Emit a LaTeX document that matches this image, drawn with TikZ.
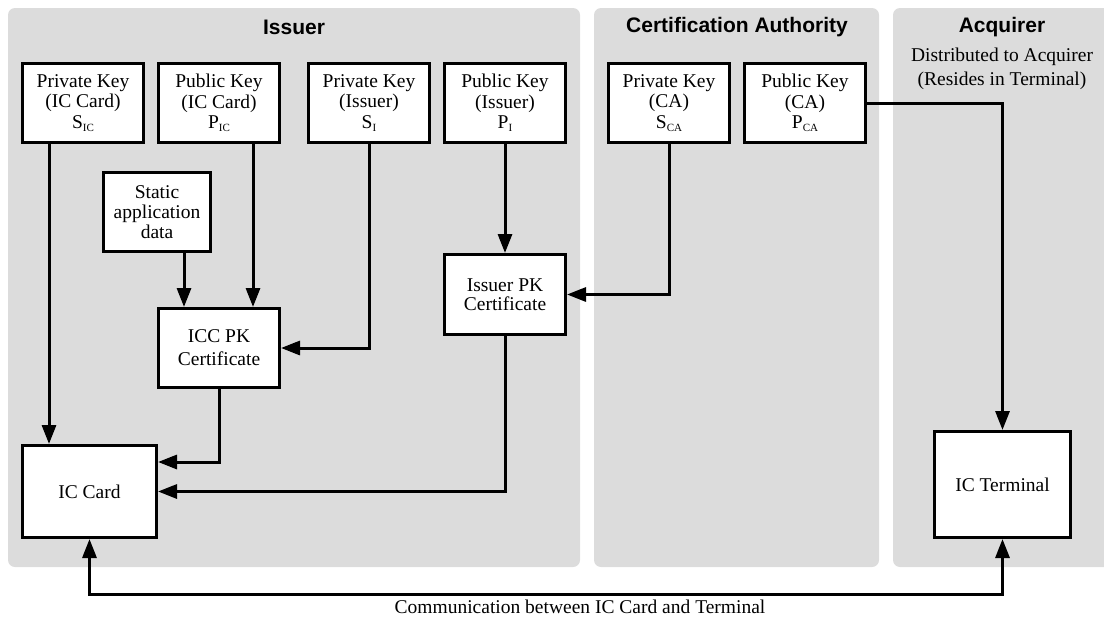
\documentclass[tikz,border=0pt]{standalone}
\usepackage{fontspec}
\setmainfont{Liberation Serif}
\newfontfamily\titlefont{Liberation Sans}
\usetikzlibrary{arrows.meta,calc}

\definecolor{panelgray}{RGB}{220,220,220}
\newcommand\lowsub[1]{\raisebox{-3pt}{\fontsize{11}{11}\selectfont #1}}
\newcommand\boxfont{\fontsize{19.5}{20.5}\selectfont}

\begin{document}
\begin{tikzpicture}[x=1pt,y=-1pt,
  panel/.style={fill=panelgray, draw=none, rounded corners=7pt},
  paneltitle/.style={font=\titlefont\bfseries\fontsize{21}{24}\selectfont, inner sep=0pt},
  note/.style={font=\fontsize{19.5}{24}\selectfont, align=center, inner sep=0pt},
  box/.style={draw, line width=3pt, fill=white, align=center, inner sep=0pt, font=\boxfont},
  keybox/.style={box, minimum width=121pt, minimum height=79pt},
  arr/.style={line width=3pt, -{Triangle[length=19pt,width=14pt]}},
  dblarr/.style={line width=3pt, {Triangle[length=19pt,width=14pt]}-{Triangle[length=19pt,width=14pt]}}
]
\clip (0,0) rectangle (1104,621);

% swimlane panels
\fill[panel] (8,8) rectangle (580,567);
\fill[panel] (594,8) rectangle (879,567);
\fill[panel] (893,8) rectangle (1130,567);

\node[paneltitle] (tissuer) at (294,27) {Issuer};
\node[paneltitle] (tca) at (737,27) {Certification Authority};
\node[paneltitle] (tacq) at (1002,27) {Acquirer};
\node[note] (acqnote) at (1002,69) {Distributed to Acquirer\\(Resides in Terminal)};

% key boxes
\node[keybox] (pkic) at (83,103) {Private Key\\(IC Card)\\S\lowsub{IC}};
\node[keybox] (pubic) at (219,103) {Public Key\\(IC Card)\\P\lowsub{IC}};
\node[keybox] (pki) at (369,103) {Private Key\\(Issuer)\\S\lowsub{I}};
\node[keybox] (pubi) at (505,103) {Public Key\\(Issuer)\\P\lowsub{I}};
\node[keybox] (pkca) at (669,103) {Private Key\\(CA)\\S\lowsub{CA}};
\node[keybox] (pubca) at (805,103) {Public Key\\(CA)\\P\lowsub{CA}};

% data and certificates
\node[box, minimum width=107pt, minimum height=79pt, font=\fontsize{19.5}{20}\selectfont] (static) at (157,212) {Static\\application\\data};
\node[box, minimum width=121pt, minimum height=79pt, font=\fontsize{19.5}{23}\selectfont] (icccert) at (219,348) {ICC PK\\Certificate};
\node[box, minimum width=121pt, minimum height=80pt, font=\fontsize{19.5}{19}\selectfont] (issuercert) at (505,294.5) {Issuer PK\\Certificate};

% devices
\node[box, minimum width=134pt, minimum height=92pt] (iccard) at (89.5,491.5) {IC Card};
\node[box, minimum width=136pt, minimum height=106pt] (icterm) at (1002.5,484.5) {IC Terminal};

% connectors
\draw[arr] ([xshift=-34pt]pkic.south) -- ([xshift=-34pt]pkic.south |- iccard.north);
\draw[arr] ([xshift=27pt]static.south) -- ([xshift=27pt]static.south |- icccert.north);
\draw[arr] ([xshift=34pt]pubic.south) -- ([xshift=34pt]pubic.south |- icccert.north);
\draw[arr] (pki.south) |- (icccert.east);
\draw[arr] (pubi.south) -- (issuercert.north);
\draw[arr] (pkca.south) |- (issuercert.east);
\draw[arr] (pubca.east) -| (icterm.north);
\draw[arr] (icccert.south) |- ([yshift=29.5pt]iccard.east);
\draw[arr] (issuercert.south) |- (iccard.east);

% card to terminal link
\coordinate (bus) at (580,594);
\draw[dblarr] (iccard.south) |- (bus) -| (icterm.south);
\node[font=\fontsize{19.5}{20}\selectfont, inner sep=0pt] (commlabel) at (580,607) {Communication between IC Card and Terminal};
\end{tikzpicture}
\end{document}
